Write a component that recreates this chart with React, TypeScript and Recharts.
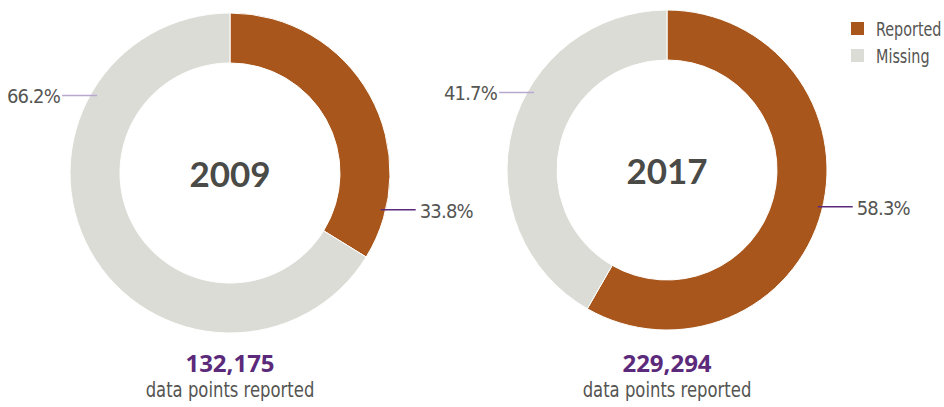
import { Cell, Pie, PieChart } from "recharts";

const YEARS = ["2009", "2017"];
const REPORTED = [33.8, 58.3];
const MISSING = [66.2, 41.7];
const TOTALS = ["132,175", "229,294"];

const SERIES = [
  { key: "reported", label: "Reported", color: "#a8561b", line: "#5b2a7b" },
  { key: "missing", label: "Missing", color: "#dcdcd6", line: "#b8a8cf" },
] as const;

const W = 944;
const H = 407;
const R = 160;
const R_IN = 110;
const CENTERS = [
  { cx: 230, cy: 173 },
  { cx: 667, cy: 170 },
];

const narrow = "'DejaVu Sans Condensed', 'Roboto', sans-serif";
const textGray = "#555552";

function renderLabel(props: any) {
  const { cx, cy, outerRadius, index } = props;
  const s = SERIES[index];
  const right = index === 0;
  const dy = right ? outerRadius * 0.23 : -outerRadius * 0.485;
  const edge = Math.sqrt(outerRadius * outerRadius - dy * dy);
  const y = cy + dy;
  const x1 = right ? cx + edge - 5 : cx - edge + 7;
  const x2 = right ? cx + edge + 30 : cx - edge - 28;
  const tx = right ? x2 + 4 : x2 - 2;
  return (
    <g key={`lbl-${index}`}>
      <line x1={x1} y1={y} x2={x2} y2={y} stroke={s.line} strokeWidth={1.5} />
      <text
        x={tx}
        y={y + 1}
        textAnchor={right ? "start" : "end"}
        dominantBaseline="central"
        fill={textGray}
        fontFamily={narrow}
        fontSize={20}
        letterSpacing={-0.8}
      >
        {props.value.toFixed(1)}%
      </text>
    </g>
  );
}

export default function App() {
  const charts = YEARS.map((year, i) => ({
    year,
    total: TOTALS[i],
    data: SERIES.map((s) => ({
      name: s.label,
      value: s.key === "reported" ? REPORTED[i] : MISSING[i],
      color: s.color,
    })),
    ...CENTERS[i],
  }));

  return (
    <div style={{ position: "absolute", left: 0, top: 0, width: W, height: H, background: "#fff" }}>
      <PieChart width={W} height={H} margin={{ top: 0, right: 0, bottom: 0, left: 0 }}>
        {charts.map((c) => (
          <Pie
            key={c.year}
            data={c.data}
            dataKey="value"
            cx={c.cx}
            cy={c.cy}
            innerRadius={R_IN}
            outerRadius={R}
            startAngle={90}
            endAngle={-270}
            stroke="#fff"
            strokeWidth={1}
            label={renderLabel}
            labelLine={false}
            isAnimationActive={false}
          >
            {c.data.map((d) => (
              <Cell key={d.name} fill={d.color} />
            ))}
          </Pie>
        ))}
      </PieChart>

      {charts.map((c) => (
        <div key={c.year}>
          <div
            style={{
              position: "absolute",
              left: c.cx - 80,
              top: c.cy - 24,
              width: 160,
              textAlign: "center",
              fontFamily: "Lato, sans-serif",
              fontWeight: 700,
              fontSize: 35,
              lineHeight: "48px",
              color: "#4a4a47",
            }}
          >
            {c.year}
          </div>
          <div
            style={{
              position: "absolute",
              left: c.cx - 120,
              top: 348,
              width: 240,
              textAlign: "center",
              fontFamily: "'Open Sans', sans-serif",
              fontWeight: 700,
              fontSize: 24,
              lineHeight: "30px",
              color: "#5b2a7b",
            }}
          >
            {c.total}
          </div>
          <div
            style={{
              position: "absolute",
              left: c.cx - 120,
              top: 377,
              width: 240,
              textAlign: "center",
              fontFamily: narrow,
              fontSize: 21,
              lineHeight: "26px",
              color: textGray,
              transform: "scaleX(0.87)",
              transformOrigin: "center",
            }}
          >
            data points reported
          </div>
        </div>
      ))}

      <ul style={{ position: "absolute", left: 851, top: 15, margin: 0, padding: 0, listStyle: "none" }}>
        {SERIES.map((s) => (
          <li
            key={s.key}
            style={{
              display: "flex",
              alignItems: "center",
              height: 27,
              fontFamily: narrow,
              fontSize: 19,
              color: textGray,
              whiteSpace: "nowrap",
            }}
          >
            <span style={{ width: 13, height: 13, background: s.color, marginRight: 12, flexShrink: 0 }} />
            <span style={{ display: "inline-block", transform: "scaleX(0.84)", transformOrigin: "left center" }}>
              {s.label}
            </span>
          </li>
        ))}
      </ul>
    </div>
  );
}
